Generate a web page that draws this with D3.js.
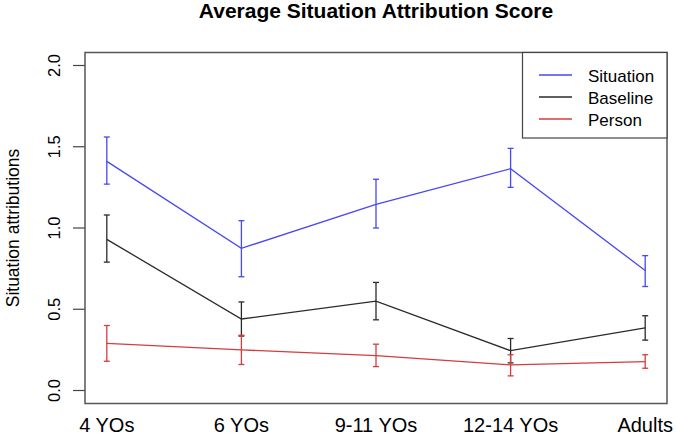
<!DOCTYPE html>
<html>
<head>
<meta charset="utf-8">
<script src="https://cdn.jsdelivr.net/npm/d3@7"></script>
<style>
  html, body { margin: 0; padding: 0; background: #fff; }
  svg { display: block; }
  text { font-family: "Liberation Sans", Arial, Helvetica, sans-serif; fill: #000; }
</style>
</head>
<body>
<svg id="chart" width="677" height="435"></svg>
<script>
const categories = ["4 YOs", "6 YOs", "9-11 YOs", "12-14 YOs", "Adults"];
const yTicks = [0.0, 0.5, 1.0, 1.5, 2.0];
const seriesNames = ["Situation", "Baseline", "Person"];
const seriesColors = ["#4848f2", "#2a2a2a", "#d63c3c"];

const situationMean  = [1.41, 0.875, 1.145, 1.365, 0.738];
const situationUpper = [1.56, 1.045, 1.30, 1.49, 0.83];
const situationLower = [1.27, 0.70, 1.00, 1.25, 0.64];

const baselineMean  = [0.93, 0.44, 0.55, 0.245, 0.385];
const baselineUpper = [1.08, 0.545, 0.665, 0.32, 0.46];
const baselineLower = [0.79, 0.335, 0.435, 0.17, 0.31];

const personMean  = [0.29, 0.25, 0.215, 0.158, 0.178];
const personUpper = [0.40, 0.34, 0.285, 0.22, 0.22];
const personLower = [0.18, 0.16, 0.147, 0.09, 0.137];

const series = [
  { name: seriesNames[0], color: seriesColors[0], mean: situationMean, upper: situationUpper, lower: situationLower },
  { name: seriesNames[1], color: seriesColors[1], mean: baselineMean, upper: baselineUpper, lower: baselineLower },
  { name: seriesNames[2], color: seriesColors[2], mean: personMean, upper: personUpper, lower: personLower }
];

const plot = { left: 85, right: 667, top: 52.5, bottom: 403.5 };
const svg = d3.select("#chart");

const x = d3.scalePoint().domain(categories).range([plot.left, plot.right]).padding(0.162);
const y = d3.scaleLinear().domain([-0.08, 2.08]).range([plot.bottom, plot.top]);

// Title
svg.append("text")
  .attr("x", (plot.left + plot.right) / 2)
  .attr("y", 17.5)
  .attr("text-anchor", "middle")
  .attr("font-size", 21)
  .attr("font-weight", "bold")
  .text("Average Situation Attribution Score");

// Y axis ticks
const yAxis = svg.append("g");
yAxis.selectAll("line.tick").data(yTicks).enter().append("line")
  .attr("x1", plot.left - 12).attr("x2", plot.left)
  .attr("y1", d => y(d)).attr("y2", d => y(d))
  .attr("stroke", "#444").attr("stroke-width", 1.2);
yAxis.selectAll("text").data(yTicks).enter().append("text")
  .attr("transform", d => `translate(60,${y(d)}) rotate(-90)`)
  .attr("text-anchor", "middle")
  .attr("font-size", 16.5)
  .text(d => d3.format(".1f")(d));

// Y title
svg.append("text")
  .attr("transform", `translate(19,${(plot.top + plot.bottom) / 2}) rotate(-90)`)
  .attr("text-anchor", "middle")
  .attr("font-size", 17.5)
  .text("Situation attributions");

// X labels
svg.append("g").selectAll("text").data(categories).enter().append("text")
  .attr("x", d => x(d))
  .attr("y", 431.5)
  .attr("text-anchor", "middle")
  .attr("font-size", 20)
  .text(d => d);

// Series
const line = d3.line().x((d, i) => x(categories[i])).y(d => y(d));
const capHalf = 3;
series.forEach(s => {
  const g = svg.append("g");
  g.append("path")
    .attr("d", line(s.mean))
    .attr("fill", "none")
    .attr("stroke", s.color)
    .attr("stroke-width", 1.3);
  categories.forEach((c, i) => {
    const cx = x(c);
    g.append("line").attr("x1", cx).attr("x2", cx)
      .attr("y1", y(s.lower[i])).attr("y2", y(s.upper[i]))
      .attr("stroke", s.color).attr("stroke-width", 1.3);
    [s.lower[i], s.upper[i]].forEach(v => {
      g.append("line").attr("x1", cx - capHalf).attr("x2", cx + capHalf)
        .attr("y1", y(v)).attr("y2", y(v))
        .attr("stroke", s.color).attr("stroke-width", 1.3);
    });
  });
});

// Box
svg.append("rect")
  .attr("x", plot.left).attr("y", plot.top)
  .attr("width", plot.right - plot.left).attr("height", plot.bottom - plot.top)
  .attr("fill", "none").attr("stroke", "#555").attr("stroke-width", 1.5);

// Legend
const leg = { left: 522.5, top: plot.top, right: plot.right, bottom: 138 };
const lg = svg.append("g");
lg.append("rect")
  .attr("x", leg.left).attr("y", leg.top)
  .attr("width", leg.right - leg.left).attr("height", leg.bottom - leg.top)
  .attr("fill", "#fff").attr("stroke", "#444").attr("stroke-width", 1.2);
series.forEach((s, i) => {
  const ly = 75 + i * 22;
  lg.append("line").attr("x1", 539).attr("x2", 572).attr("y1", ly).attr("y2", ly)
    .attr("stroke", s.color).attr("stroke-width", 1.3);
  lg.append("text").attr("x", 588).attr("y", ly + 6.5)
    .attr("font-size", 17).text(s.name);
});
</script>
</body>
</html>
